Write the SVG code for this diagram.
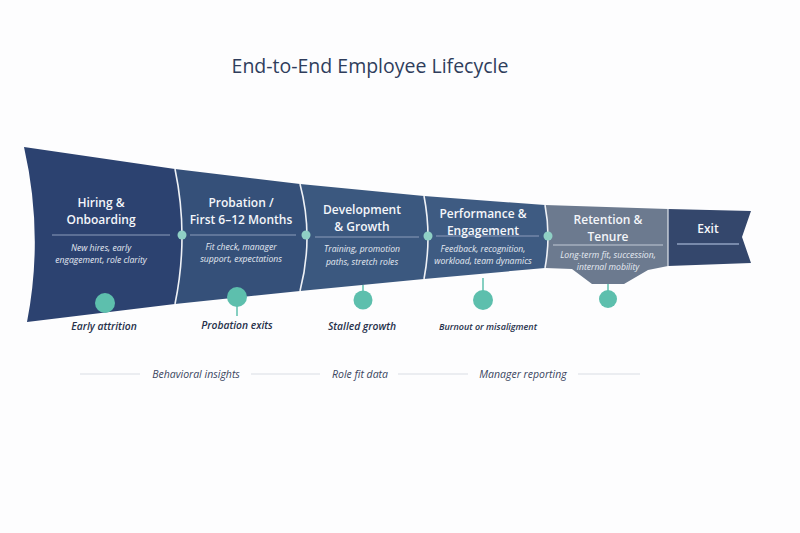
<svg xmlns="http://www.w3.org/2000/svg" width="800" height="533" viewBox="0 0 800 533">
<defs>
<style>
.title{font-family:"Open Sans","Noto Sans",sans-serif;font-size:19.5px;fill:#2f3d5c;text-anchor:middle}
.h{font-family:"Open Sans","Noto Sans",sans-serif;font-size:12px;font-weight:600;fill:#f4f6fa;text-anchor:middle}
.s{font-family:"Open Sans","Noto Sans",sans-serif;font-size:8.6px;font-style:italic;fill:#e6ebf3;text-anchor:middle}
.lab{font-family:"Open Sans","Noto Sans",sans-serif;font-size:10.3px;font-style:italic;font-weight:600;fill:#26304a;text-anchor:middle}
.bot{font-family:"Open Sans","Noto Sans",sans-serif;font-size:10.5px;font-style:italic;fill:#3a4560;text-anchor:middle}
.div{stroke:#8c9cbb;stroke-width:1;fill:none}
.sep{stroke:#eef1f6;stroke-width:1.6;fill:none}
.dot{fill:#8fd0c5}
.mark{fill:#5dbfad}
.stem{stroke:#5dbfad;stroke-width:1.5}
.gl{stroke:#d9dde4;stroke-width:1.2}
</style>
</defs>
<rect width="800" height="533" fill="#fdfdfe"/>
<text class="title" x="370" y="73">End-to-End Employee Lifecycle</text>

<g id="seg-hiring">
<path d="M24,147 L175,169 Q189,236 175,304 L27,322 Q44,235 24,147 Z" fill="#2c4270"/>
<line class="div" x1="52" y1="235" x2="170" y2="235"/>
<text class="h" x="101" y="207">Hiring &amp;</text>
<text class="h" x="101" y="223.5">Onboarding</text>
<text class="s" x="101" y="251">New hires, early</text>
<text class="s" x="101" y="263">engagement, role clarity</text>
</g>
<g id="seg-probation">
<path d="M175,169 L300,184 Q314,237 300,291 L175,304 Q189,236 175,169 Z" fill="#355079"/>
<line class="div" x1="190" y1="235" x2="296" y2="235"/>
<text class="h" x="241" y="207">Probation /</text>
<text class="h" x="241" y="223.5">First 6–12 Months</text>
<text class="s" x="241" y="250">Fit check, manager</text>
<text class="s" x="241" y="262">support, expectations</text>
</g>
<g id="seg-development">
<path d="M300,184 L424,196 Q432,237 424,279 L300,291 Q314,237 300,184 Z" fill="#3b587f"/>
<line class="div" x1="315" y1="237" x2="419" y2="237"/>
<text class="h" x="362" y="214">Development</text>
<text class="h" x="362" y="230.5">&amp; Growth</text>
<text class="s" x="362" y="252">Training, promotion</text>
<text class="s" x="362" y="265">paths, stretch roles</text>
</g>
<g id="seg-performance">
<path d="M424,196 L545,205 Q551,236 545,268 L424,279 Q432,237 424,196 Z" fill="#3e5b82"/>
<line class="div" x1="436" y1="236" x2="539" y2="236"/>
<text class="h" x="483" y="218">Performance &amp;</text>
<text class="h" x="483" y="234.5">Engagement</text>
<text class="s" x="483" y="252">Feedback, recognition,</text>
<text class="s" x="483" y="264">workload, team dynamics</text>
</g>
<g id="seg-retention">
<path d="M545,205 L668,209 L668,266 L648,270 L624,284 L592,284 L572,269 L545,268 Q551,236 545,205 Z" fill="#6c7a8f"/>
<line class="div" x1="553" y1="245" x2="663" y2="245" style="stroke:#c2cad6"/>
<text class="h" x="608" y="224">Retention &amp;</text>
<text class="h" x="608" y="240.5">Tenure</text>
<text class="s" x="608" y="258">Long-term fit, succession,</text>
<text class="s" x="608" y="270">internal mobility</text>
</g>
<g id="seg-exit">
<path d="M668,209 L751,211 L742,237 L751,263 L668,266 Z" fill="#34476c"/>
<line class="div" x1="677" y1="244" x2="739" y2="244" style="stroke:#8fa0c0;stroke-width:1.5"/>
<text class="h" x="708" y="233">Exit</text>
</g>

<g id="connectors">
<path class="sep" d="M175,169 Q189,236 175,304"/>
<path class="sep" d="M300,184 Q314,237 300,291"/>
<path class="sep" d="M424,196 Q432,237 424,279"/>
<path class="sep" d="M545,205 Q551,236 545,268"/>
<path class="sep" d="M668,209 L668,266" style="stroke-width:1.2;stroke:#dfe4ec"/>
<circle class="dot" cx="182" cy="235" r="4.5"/>
<circle class="dot" cx="306" cy="235" r="4.5"/>
<circle class="dot" cx="428" cy="236" r="4.5"/>
<circle class="dot" cx="548" cy="236" r="4.5"/>
<line class="stem" x1="237" y1="300" x2="237" y2="316"/>
<line class="stem" x1="363" y1="285" x2="363" y2="300"/>
<line class="stem" x1="483" y1="278" x2="483" y2="300"/>
<line class="stem" x1="608" y1="284" x2="608" y2="299"/>
</g>

<g id="risk-early"><circle class="mark" cx="105" cy="303" r="10"/><text class="lab" x="104" y="330">Early attrition</text></g>
<g id="risk-probation"><circle class="mark" cx="237" cy="297" r="10"/><text class="lab" x="237" y="329">Probation exits</text></g>
<g id="risk-stalled"><circle class="mark" cx="363" cy="300" r="9.5"/><text class="lab" x="362" y="330">Stalled growth</text></g>
<g id="risk-burnout"><circle class="mark" cx="483" cy="300" r="10"/><text class="lab" x="488" y="330" style="font-size:9px">Burnout or misaligment</text></g>
<g id="risk-retention"><circle class="mark" cx="608" cy="299" r="9"/></g>

<g id="data-sources">
<line class="gl" x1="80" y1="374" x2="140" y2="374"/>
<text class="bot" x="196" y="378">Behavioral insights</text>
<line class="gl" x1="251" y1="374" x2="320" y2="374"/>
<text class="bot" x="360" y="378">Role fit data</text>
<line class="gl" x1="398" y1="374" x2="468" y2="374"/>
<text class="bot" x="523" y="378">Manager reporting</text>
<line class="gl" x1="578" y1="374" x2="640" y2="374"/>
</g>
</svg>
